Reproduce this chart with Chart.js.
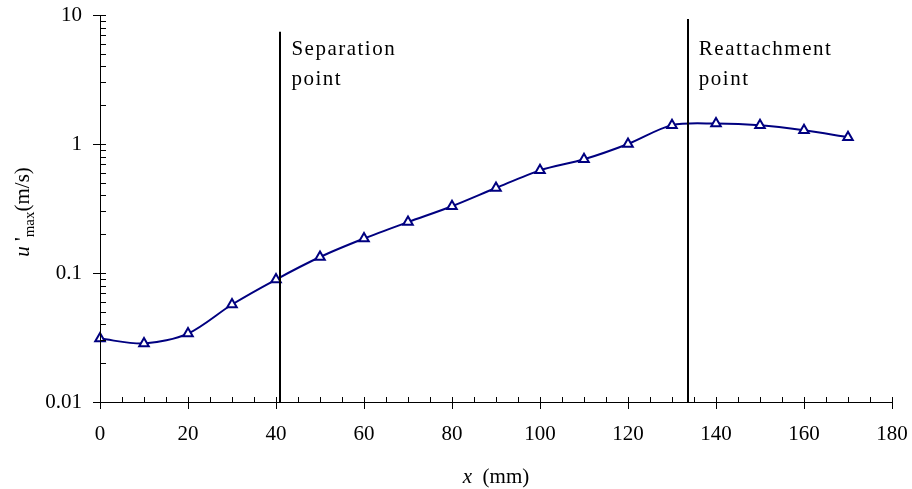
<!DOCTYPE html>
<html>
<head>
<meta charset="utf-8">
<script src="https://cdn.jsdelivr.net/npm/chart.js@4.4.1/dist/chart.umd.min.js"></script>
<style>
  html, body { margin: 0; padding: 0; background: #fff; }
  #wrap { width: 912px; height: 489px; }
</style>
</head>
<body>
<div id="wrap"><canvas id="uChart" width="912" height="489"></canvas></div>
<script>
// distance from the step (mm) and max fluctuation velocity (m/s)
const xPos = [0, 10, 20, 30, 40, 50, 60, 70, 80, 90, 100, 110, 120, 130, 140, 150, 160, 170];
const uMax = [0.031, 0.0284, 0.0339, 0.057, 0.089, 0.133, 0.185, 0.248, 0.329, 0.456, 0.625, 0.761, 1.0, 1.40, 1.44, 1.40, 1.28, 1.13];

// log axis labels
const yTickLabels = [0.01, 0.1, 1, 10];

// marker lines: x position, top end (in y units), label lines
const markerX = [41, 133.6];
const markerTop = [7.4, 9.3];
const markerText = [['Separation', 'point'], ['Reattachment', 'point']];

const serif = '"Liberation Serif", "Times New Roman", serif';

// axes, tick marks, marker lines and titles
const drawExtras = {
    id: 'drawExtras',
    afterDatasetsDraw(chart) {
        const ctx = chart.ctx;
        const xs = chart.scales.x;
        const ys = chart.scales.y;
        const a = chart.chartArea;
        ctx.save();
        ctx.strokeStyle = '#000';
        ctx.lineWidth = 1;

        // axis lines
        ctx.beginPath();
        ctx.moveTo(a.left + 0.5, a.top);
        ctx.lineTo(a.left + 0.5, a.bottom + 0.5);
        ctx.lineTo(a.right, a.bottom + 0.5);
        ctx.stroke();

        // x ticks: major every 20, minor every 5
        ctx.beginPath();
        for (let v = 0; v <= 180; v += 5) {
            const px = Math.round(xs.getPixelForValue(v)) + 0.5;
            if (v % 20 === 0) {
                ctx.moveTo(px, a.bottom - 5);
                ctx.lineTo(px, a.bottom + 7);
            } else {
                ctx.moveTo(px, a.bottom - 5);
                ctx.lineTo(px, a.bottom);
            }
        }
        // y ticks: decades and 2..9 minors
        for (let d = 0; d < yTickLabels.length; d++) {
            const base = yTickLabels[d];
            const py = Math.round(ys.getPixelForValue(base)) + 0.5;
            ctx.moveTo(a.left - 7, py);
            ctx.lineTo(a.left + 6, py);
            if (d < yTickLabels.length - 1) {
                for (let m = 2; m <= 9; m++) {
                    const pm = Math.round(ys.getPixelForValue(base * m)) + 0.5;
                    ctx.moveTo(a.left, pm);
                    ctx.lineTo(a.left + 6, pm);
                }
            }
        }
        ctx.stroke();

        // separation / reattachment lines
        ctx.lineWidth = 2;
        ctx.beginPath();
        markerX.forEach((mx, i) => {
            const px = Math.round(xs.getPixelForValue(mx));
            ctx.moveTo(px, ys.getPixelForValue(markerTop[i]));
            ctx.lineTo(px, a.bottom);
        });
        ctx.stroke();

        // marker labels
        ctx.fillStyle = '#000';
        ctx.font = '21px ' + serif;
        ctx.textAlign = 'left';
        ctx.textBaseline = 'alphabetic';
        ctx.letterSpacing = '1.5px';
        markerX.forEach((mx, i) => {
            const px = xs.getPixelForValue(mx) + 11;
            markerText[i].forEach((t, j) => {
                ctx.fillText(t, px, 55 + j * 30);
            });
        });
        ctx.letterSpacing = '0px';

        // x title
        const xa = 'x';
        const xb = '  (mm)';
        ctx.font = 'italic 21px ' + serif;
        const wa = ctx.measureText(xa).width;
        ctx.font = '21px ' + serif;
        const wb = ctx.measureText(xb).width;
        let tx = (a.left + a.right) / 2 - (wa + wb) / 2;
        ctx.font = 'italic 21px ' + serif;
        ctx.fillText(xa, tx, 483);
        ctx.font = '21px ' + serif;
        ctx.fillText(xb, tx + wa, 483);

        // y title: u'max(m/s), rotated
        ctx.translate(29, 212);
        ctx.rotate(-Math.PI / 2);
        const parts = [
            { t: 'u', f: 'italic 21px ' + serif, dy: 0 },
            { t: ' \'', f: '21px ' + serif, dy: 0 },
            { t: 'max', f: '15px ' + serif, dy: 5 },
            { t: '(m/s)', f: '21px ' + serif, dy: 0 }
        ];
        let total = 0;
        parts.forEach(p => { ctx.font = p.f; p.w = ctx.measureText(p.t).width; total += p.w; });
        let cx = -total / 2;
        parts.forEach(p => {
            ctx.font = p.f;
            ctx.fillText(p.t, cx, p.dy);
            cx += p.w;
        });
        ctx.restore();
    }
};

const ctx = document.getElementById('uChart').getContext('2d');
const chart = new Chart(ctx, {
    type: 'line',
    data: {
        datasets: [{
            label: "u'max",
            data: xPos.map((x, i) => ({ x: x, y: uMax[i] })),
            borderColor: '#000080',
            borderWidth: 2,
            tension: 0.3,
            clip: false,
            pointStyle: 'triangle',
            pointRadius: 5.5,
            pointBorderWidth: 2,
            pointBorderColor: '#000080',
            pointBackgroundColor: '#fff'
        }]
    },
    options: {
        responsive: false,
        animation: false,
        layout: { padding: { top: 15, right: 20, left: 0, bottom: 0 } },
        plugins: {
            legend: { display: false },
            tooltip: { enabled: false }
        },
        scales: {
            x: {
                type: 'linear',
                min: 0,
                max: 180,
                grid: { display: false, drawTicks: false },
                border: { display: false },
                ticks: {
                    stepSize: 20,
                    padding: 20,
                    color: '#000',
                    maxRotation: 0,
                    font: { family: serif, size: 21 }
                },
                afterFit(scale) {
                    scale.height = 87;
                    scale.paddingLeft = 0;
                    scale.paddingRight = 0;
                }
            },
            y: {
                type: 'logarithmic',
                min: 0.01,
                max: 10,
                grid: { display: false, drawTicks: false },
                border: { display: false },
                afterBuildTicks(scale) {
                    scale.ticks = yTickLabels.map(v => ({ value: v }));
                },
                ticks: {
                    padding: 18,
                    color: '#000',
                    font: { family: serif, size: 21 },
                    callback: v => String(v)
                },
                afterFit(scale) {
                    scale.width = 100;
                    scale.paddingTop = 0;
                    scale.paddingBottom = 0;
                }
            }
        }
    },
    plugins: [drawExtras]
});
</script>
</body>
</html>
